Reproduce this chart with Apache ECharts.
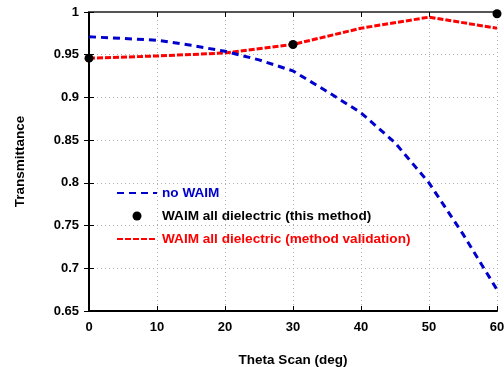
<!DOCTYPE html>
<html>
<head>
<meta charset="utf-8">
<script src="https://cdn.jsdelivr.net/npm/echarts@6/dist/echarts.min.js"></script>
<style>
  html, body { margin: 0; padding: 0; background: #fff; }
  #chart { width: 504px; height: 367px; }
</style>
</head>
<body>
<div id="chart"></div>
<script>
// theta scan angles (deg)
const thetaFine = [0, 5, 10, 15, 20, 25, 30, 35, 40, 45, 50, 55, 60];
const noWaim = [0.971, 0.969, 0.967, 0.961, 0.954, 0.944, 0.931, 0.907, 0.882, 0.847, 0.800, 0.740, 0.675];

const thetaCoarse = [0, 10, 20, 30, 40, 50, 60];
const validation = [0.946, 0.9485, 0.952, 0.962, 0.981, 0.994, 0.981];

const thisMethodTheta = [0, 30, 60];
const thisMethod = [0.946, 0.962, 0.998];

const xTicks = [0, 10, 20, 30, 40, 50, 60];
const yTicks = [0.65, 0.7, 0.75, 0.8, 0.85, 0.9, 0.95, 1];

const font = 'Liberation Sans, Arial, sans-serif';

const chart = echarts.init(document.getElementById('chart'), null, { renderer: 'canvas' });

const gridLine = { show: true, lineStyle: { color: '#b0b0b0', type: [1, 3], width: 1 } };
const axisLine = { show: true, lineStyle: { color: '#000', width: 2 } };
const tick = { show: true, inside: true, length: 5, lineStyle: { color: '#000', width: 1 } };

const option = {
    backgroundColor: '#fff',
    animation: false,
    grid: { left: 89, right: 7, top: 12, bottom: 56, containLabel: false, outerBoundsMode: 'none' },
    xAxis: [
        {
            type: 'value', min: 0, max: 60, interval: 10,
            axisLine: axisLine, axisTick: tick,
            axisLabel: { color: '#000', fontFamily: font, fontWeight: 'bold', fontSize: 13, margin: 10,
                formatter: v => xTicks.includes(v) ? String(v) : '' },
            splitLine: gridLine,
            name: 'Theta Scan (deg)', nameLocation: 'middle', nameGap: 42,
            nameTextStyle: { color: '#000', fontFamily: font, fontWeight: 'bold', fontSize: 13.5 }
        },
        {
            type: 'value', position: 'top', min: 0, max: 60, interval: 10,
            axisLine: { show: true, lineStyle: { color: '#555', width: 2 } }, axisTick: tick,
            axisLabel: { show: false }, splitLine: { show: false }
        }
    ],
    yAxis: [
        {
            type: 'value', min: 0.65, max: 1, interval: 0.05,
            axisLine: axisLine, axisTick: tick,
            axisLabel: { color: '#000', fontFamily: font, fontWeight: 'bold', fontSize: 13, margin: 10,
                formatter: v => String(parseFloat(v.toFixed(2))) },
            splitLine: gridLine,
            name: 'Transmittance', nameLocation: 'middle', nameGap: 62,
            nameTextStyle: { color: '#000', fontFamily: font, fontWeight: 'bold', fontSize: 13.5 }
        },
        {
            type: 'value', position: 'right', min: 0.65, max: 1, interval: 0.05,
            axisLine: { show: true, lineStyle: { color: '#000', width: 1.5 } }, axisTick: tick,
            axisLabel: { show: false }, splitLine: { show: false }
        }
    ],
    legend: {
        orient: 'vertical',
        left: 111, top: 181,
        itemWidth: 40, itemHeight: 9, itemGap: 9,
        textStyle: { fontFamily: font, fontWeight: 'bold', fontSize: 13.6 },
        data: [
            { name: 'no WAIM', textStyle: { color: '#0000cc' }, itemStyle: { opacity: 0 } },
            { name: 'WAIM all dielectric (this method)', textStyle: { color: '#000' } },
            { name: 'WAIM all dielectric (method validation)', textStyle: { color: '#ff0000' }, itemStyle: { opacity: 0 } }
        ]
    },
    series: [
        {
            name: 'no WAIM', type: 'line',
            data: thetaFine.map((t, i) => [t, noWaim[i]]),
            showSymbol: false, symbol: 'none',
            color: '#0000cc',
            lineStyle: { color: '#0000cc', width: 3, type: [7, 5] },
            z: 3
        },
        {
            name: 'WAIM all dielectric (method validation)', type: 'line',
            data: thetaCoarse.map((t, i) => [t, validation[i]]),
            showSymbol: false, symbol: 'none',
            color: '#ff0000',
            lineStyle: { color: '#ff0000', width: 3, type: [6, 2] },
            z: 2
        },
        {
            name: 'WAIM all dielectric (this method)', type: 'scatter',
            data: thisMethodTheta.map((t, i) => [t, thisMethod[i]]),
            symbol: 'circle', symbolSize: 9,
            itemStyle: { color: '#000', opacity: 1 },
            z: 4
        }
    ]
};

chart.setOption(option);
</script>
</body>
</html>
